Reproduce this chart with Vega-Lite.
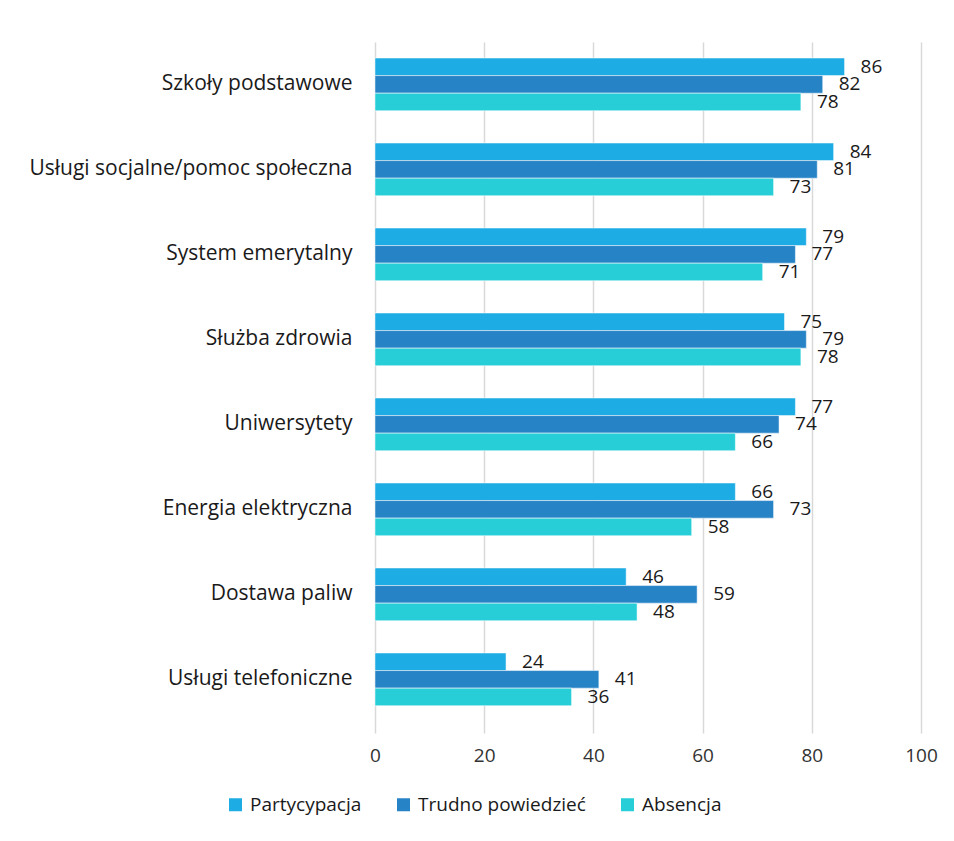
{
  "$schema": "https://vega.github.io/schema/vega-lite/v6.json",
  "width": 546,
  "height": 691,
  "autosize": {"type": "none"},
  "padding": {"left": 375, "top": 42, "right": 33, "bottom": 108},
  "background": "white",
  "data": {
    "values": [
      {"k": "Szkoły podstawowe", "s": "Partycypacja", "v": 86},
      {"k": "Szkoły podstawowe", "s": "Trudno powiedzieć", "v": 82},
      {"k": "Szkoły podstawowe", "s": "Absencja", "v": 78},
      {"k": "Usługi socjalne/pomoc społeczna", "s": "Partycypacja", "v": 84},
      {"k": "Usługi socjalne/pomoc społeczna", "s": "Trudno powiedzieć", "v": 81},
      {"k": "Usługi socjalne/pomoc społeczna", "s": "Absencja", "v": 73},
      {"k": "System emerytalny", "s": "Partycypacja", "v": 79},
      {"k": "System emerytalny", "s": "Trudno powiedzieć", "v": 77},
      {"k": "System emerytalny", "s": "Absencja", "v": 71},
      {"k": "Służba zdrowia", "s": "Partycypacja", "v": 75},
      {"k": "Służba zdrowia", "s": "Trudno powiedzieć", "v": 79},
      {"k": "Służba zdrowia", "s": "Absencja", "v": 78},
      {"k": "Uniwersytety", "s": "Partycypacja", "v": 77},
      {"k": "Uniwersytety", "s": "Trudno powiedzieć", "v": 74},
      {"k": "Uniwersytety", "s": "Absencja", "v": 66},
      {"k": "Energia elektryczna", "s": "Partycypacja", "v": 66},
      {"k": "Energia elektryczna", "s": "Trudno powiedzieć", "v": 73},
      {"k": "Energia elektryczna", "s": "Absencja", "v": 58},
      {"k": "Dostawa paliw", "s": "Partycypacja", "v": 46},
      {"k": "Dostawa paliw", "s": "Trudno powiedzieć", "v": 59},
      {"k": "Dostawa paliw", "s": "Absencja", "v": 48},
      {"k": "Usługi telefoniczne", "s": "Partycypacja", "v": 24},
      {"k": "Usługi telefoniczne", "s": "Trudno powiedzieć", "v": 41},
      {"k": "Usługi telefoniczne", "s": "Absencja", "v": 36}
    ]
  },
  "encoding": {
    "y": {
      "field": "k",
      "type": "nominal",
      "sort": null,
      "scale": {"paddingInner": 0.38, "paddingOuter": 0.255, "align": 0.37},
      "axis": {
        "title": null,
        "domain": false,
        "ticks": false,
        "labelFont": "Open Sans",
        "labelFontSize": 21,
        "labelColor": "#1a1a1a",
        "labelPadding": 23,
        "labelLimit": 400
      }
    },
    "yOffset": {
      "field": "s",
      "type": "nominal",
      "sort": ["Partycypacja", "Trudno powiedzieć", "Absencja"],
      "scale": {"paddingInner": 0, "paddingOuter": 0}
    },
    "x": {
      "field": "v",
      "type": "quantitative",
      "scale": {"domain": [0, 100], "nice": false},
      "axis": {
        "title": null,
        "values": [0, 20, 40, 60, 80, 100],
        "domain": false,
        "ticks": false,
        "grid": true,
        "gridColor": "#d9d9d9",
        "gridWidth": 1.5,
        "labelFlush": false,
        "labelFont": "Open Sans",
        "labelFontSize": 19,
        "labelColor": "#333333",
        "labelPadding": 13
      }
    }
  },
  "layer": [
    {
      "mark": {"type": "bar", "stroke": "white", "strokeWidth": 0.5},
      "encoding": {
        "color": {
          "field": "s",
          "type": "nominal",
          "sort": ["Partycypacja", "Trudno powiedzieć", "Absencja"],
          "scale": {
            "domain": ["Partycypacja", "Trudno powiedzieć", "Absencja"],
            "range": ["#1dace3", "#2683c6", "#27ced7"]
          },
          "legend": {
            "title": null,
            "orient": "none",
            "direction": "horizontal",
            "legendX": -149,
            "legendY": 753,
            "symbolType": "square",
            "symbolSize": 169,
            "symbolStrokeWidth": 0,
            "labelFont": "Open Sans",
            "labelFontSize": 19,
            "labelLimit": 400,
            "labelColor": "#1a1a1a",
            "labelOffset": 5,
            "columnPadding": 32
          }
        }
      }
    },
    {
      "mark": {
        "type": "text",
        "align": "left",
        "baseline": "middle",
        "dx": 16,
        "font": "Open Sans",
        "fontSize": 19,
        "color": "#1a1a1a"
      },
      "encoding": {"text": {"field": "v", "type": "quantitative"}}
    }
  ],
  "config": {"view": {"stroke": null}}
}
